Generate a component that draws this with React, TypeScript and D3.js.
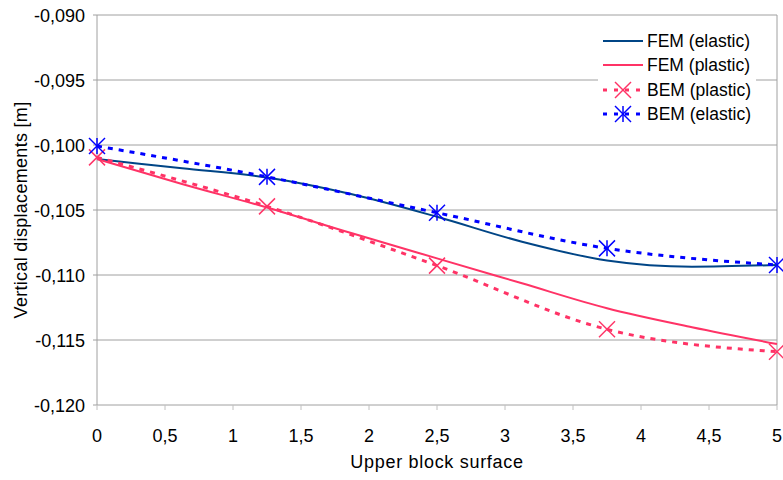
import React from "react";
import * as d3 from "d3";

const W = 783;
const H = 480;

const xTicks = [0, 0.5, 1, 1.5, 2, 2.5, 3, 3.5, 4, 4.5, 5];
const yTicks = [-0.09, -0.095, -0.1, -0.105, -0.11, -0.115, -0.12];

const femX = [0, 0.625, 1.25, 1.875, 2.5, 3.125, 3.75, 4.375, 5];
const femElastic = [-0.10108, -0.10179, -0.1025, -0.10379, -0.10552, -0.10744, -0.10888, -0.10936, -0.10923];
const femPlastic = [-0.10108, -0.1030, -0.10481, -0.10679, -0.10872, -0.11064, -0.11256, -0.11402, -0.11531];

const bemX = [0, 1.25, 2.5, 3.75, 5];
const bemPlastic = [-0.10095, -0.10472, -0.10928, -0.11418, -0.1159];
const bemElastic = [-0.10008, -0.10245, -0.10521, -0.10795, -0.10923];

const legendLabels = ["FEM (elastic)", "FEM (plastic)", "BEM (plastic)", "BEM (elastic)"];

const C_DARK = "#004586";
const C_PINK = "#ff3366";
const C_BLUE = "#0000ff";
const FONT = "'Liberation Sans', Arial, sans-serif";

const x = d3.scaleLinear().domain([0, 5]).range([97, 777]);
const y = d3.scaleLinear().domain([-0.12, -0.09]).range([405, 15]);

const fmtY = (v: number) => d3.format(".3f")(v).replace(".", ",").replace("−", "-");
const fmtX = (v: number) => String(v).replace(".", ",");

function mkLine(xs: number[], ys: number[]) {
  const pts = xs.map((xv, i) => [xv, ys[i]] as [number, number]);
  return d3
    .line<[number, number]>()
    .x((d) => x(d[0]))
    .y((d) => y(d[1]))
    .curve(d3.curveMonotoneX)(pts) as string;
}

function Asterisk({ cx, cy, color }: { cx: number; cy: number; color: string }) {
  const s = 8;
  return (
    <g stroke={color} strokeWidth={1.5} fill="none">
      <line x1={cx} y1={cy - s} x2={cx} y2={cy + s} />
      <line x1={cx - s} y1={cy - s} x2={cx + s} y2={cy + s} />
      <line x1={cx - s} y1={cy + s} x2={cx + s} y2={cy - s} />
    </g>
  );
}

function Cross({ cx, cy, color }: { cx: number; cy: number; color: string }) {
  const s = 8;
  return (
    <g stroke={color} strokeWidth={1.5} fill="none">
      <line x1={cx - s} y1={cy - s} x2={cx + s} y2={cy + s} />
      <line x1={cx - s} y1={cy + s} x2={cx + s} y2={cy - s} />
    </g>
  );
}

export default function App() {
  const dash = "5,6";
  const legendY = [41, 65, 90, 114];
  return (
    <svg
      width={W}
      height={H}
      style={{ position: "absolute", left: 0, top: 0, background: "#fff" }}
      fontFamily={FONT}
    >
      <rect x={0} y={0} width={W} height={H} fill="#fff" />
      {/* gridlines */}
      {yTicks.map((t) => (
        <g key={"g" + t}>
          <line x1={93} x2={777} y1={y(t)} y2={y(t)} stroke="#a0a0a0" strokeWidth={1} />
          <text x={85} y={y(t) + 6.5} textAnchor="end" fontSize={18} fill="#000">
            {fmtY(t)}
          </text>
        </g>
      ))}
      {/* axes */}
      <line x1={97} x2={97} y1={15} y2={405} stroke="#a0a0a0" strokeWidth={1} />
      <line x1={777} x2={777} y1={15} y2={405} stroke="#a0a0a0" strokeWidth={1} />
      {xTicks.map((t) => (
        <g key={"x" + t}>
          <line x1={x(t)} x2={x(t)} y1={405} y2={410} stroke="#c0c0c0" strokeWidth={1} />
          <text x={x(t)} y={442} textAnchor="middle" fontSize={18} fill="#000">
            {fmtX(t)}
          </text>
        </g>
      ))}
      <text x={437} y={468} textAnchor="middle" fontSize={18} letterSpacing={0.7} fill="#000">
        Upper block surface
      </text>
      <text
        transform={`translate(27,210) rotate(-90)`}
        textAnchor="middle"
        fontSize={18}
        letterSpacing={0.3}
        fill="#000"
      >
        Vertical displacements [m]
      </text>

      {/* FEM lines */}
      <path d={mkLine(femX, femElastic)} fill="none" stroke={C_DARK} strokeWidth={2} />
      <path d={mkLine(femX, femPlastic)} fill="none" stroke={C_PINK} strokeWidth={2} />
      {/* BEM lines */}
      <path d={mkLine(bemX, bemPlastic)} fill="none" stroke={C_PINK} strokeWidth={3} strokeDasharray={dash} />
      <path d={mkLine(bemX, bemElastic)} fill="none" stroke={C_BLUE} strokeWidth={3} strokeDasharray={dash} />
      {bemX.map((xv, i) => (
        <Cross key={"c" + i} cx={x(xv)} cy={y(bemPlastic[i])} color={C_PINK} />
      ))}
      {bemX.map((xv, i) => (
        <Asterisk key={"a" + i} cx={x(xv)} cy={y(bemElastic[i])} color={C_BLUE} />
      ))}

      {/* legend */}
      <rect x={598} y={26} width={158} height={102} fill="#fff" />
      <line x1={603} x2={643} y1={legendY[0]} y2={legendY[0]} stroke={C_DARK} strokeWidth={2} />
      <line x1={603} x2={643} y1={legendY[1]} y2={legendY[1]} stroke={C_PINK} strokeWidth={2} />
      <line x1={603} x2={645} y1={legendY[2]} y2={legendY[2]} stroke={C_PINK} strokeWidth={3} strokeDasharray="4,7" />
      <Cross cx={623} cy={legendY[2]} color={C_PINK} />
      <line x1={603} x2={645} y1={legendY[3]} y2={legendY[3]} stroke={C_BLUE} strokeWidth={3} strokeDasharray="4,7" />
      <Asterisk cx={623} cy={legendY[3]} color={C_BLUE} />
      {legendLabels.map((l, i) => (
        <text key={l} x={647} y={legendY[i] + 6} fontSize={17.5} fill="#000">
          {l}
        </text>
      ))}
    </svg>
  );
}
